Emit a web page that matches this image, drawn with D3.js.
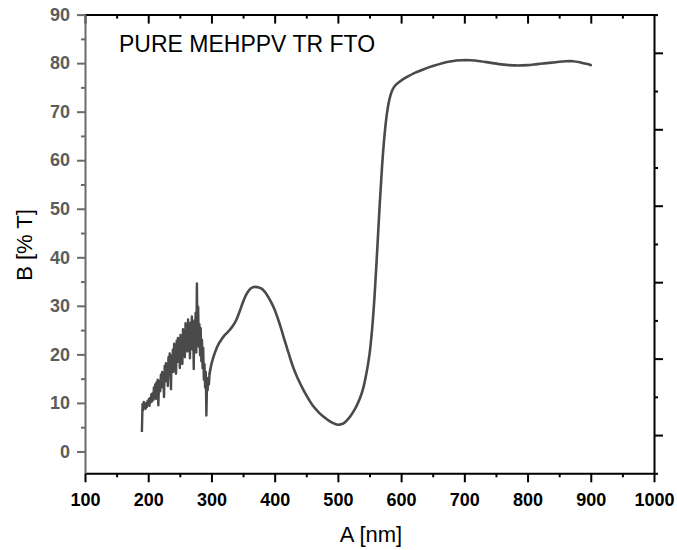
<!DOCTYPE html>
<html>
<head>
<meta charset="utf-8">
<script src="https://cdn.jsdelivr.net/npm/d3@7"></script>
<style>
  body { margin: 0; background: #fff; }
  text { font-family: "Liberation Sans", Arial, sans-serif; }
</style>
</head>
<body>
<div id="chart"></div>
<script>
// noisy region, 1 nm steps
var noisy_wl = d3.range(190, 298);
var noisy_t = [
  4.0, 9.8, 8.5, 10.2, 9.0, 9.6, 8.8, 10.0, 9.2, 10.4,
  9.6, 10.8, 9.4, 11.0, 10.1, 11.8, 10.3, 12.0, 10.6, 13.2,
  11.0, 13.8, 10.8, 14.2, 12.0, 14.8, 9.5, 13.5, 14.6, 12.4,
  15.8, 13.2, 16.4, 14.0, 15.2, 11.2, 17.6, 14.4, 18.2, 15.0,
  17.0, 13.5, 19.4, 15.8, 20.2, 16.2, 12.8, 19.8, 17.0, 21.0,
  16.4, 22.2, 17.8, 20.6, 16.0, 22.8, 18.4, 23.4, 19.0, 21.8,
  17.2, 24.0, 19.6, 22.4, 18.0, 25.2, 20.0, 23.6, 19.4, 26.4,
  21.2, 24.2, 20.6, 27.2, 21.8, 25.0, 19.2, 26.6, 22.4, 27.8,
  21.0, 25.8, 17.0, 27.0, 22.8, 28.6, 20.4, 34.6, 23.2, 29.8,
  21.6, 26.2, 19.8, 25.4, 18.6, 23.0, 17.2, 21.4, 14.8, 18.0,
  13.2, 16.4, 7.4, 14.0, 12.6, 15.2, 13.8, 16.0
];

// smooth region
var smooth_wl = [300, 304, 308, 312, 316, 320, 325, 330, 335, 340, 345, 350, 355, 360, 365, 370, 375,
  380, 385, 390, 395, 400, 405, 410, 415, 420, 425, 430, 435, 440, 445, 450, 455, 460, 465, 470,
  475, 480, 485, 490, 495, 500, 505, 510, 515, 520, 525, 530, 535, 540, 545, 550, 554, 558, 562,
  566, 570, 574, 578, 582, 586, 590, 595, 600, 610, 620, 635, 650, 665, 680, 695, 710, 725, 740,
  755, 770, 785, 800, 815, 830, 845, 860, 872, 885, 895, 900];
var smooth_t = [18.0, 19.8, 21.2, 22.3, 23.1, 23.8, 24.5, 25.2, 26.1, 27.3, 29.0, 30.8, 32.3, 33.3, 33.8, 33.9, 33.8,
  33.5, 32.8, 31.8, 30.6, 29.2, 27.4, 25.4, 23.2, 21.1, 19.0, 17.1, 15.5, 14.1, 12.8, 11.6, 10.5, 9.5, 8.7, 8.0,
  7.4, 6.9, 6.4, 6.0, 5.7, 5.5, 5.6, 5.9, 6.5, 7.3, 8.3, 9.5, 11.0, 13.0, 16.0, 20.0, 25.0, 32.0, 41.0,
  50.5, 59.0, 65.5, 70.0, 72.8, 74.4, 75.3, 75.9, 76.4, 77.2, 77.9, 78.7, 79.4, 80.0, 80.4, 80.6, 80.6, 80.4, 80.1,
  79.8, 79.6, 79.5, 79.6, 79.8, 80.0, 80.2, 80.4, 80.4, 80.1, 79.8, 79.6];

var x_major = d3.range(100, 1001, 100);
var x_minor = d3.range(150, 1000, 100);
var y_major = d3.range(0, 91, 10);
var y_minor = d3.range(5, 90, 10);
var right_major = [0, 1, 2, 3, 4, 5];
var right_minor = [-0.5, 0.5, 1.5, 2.5, 3.5, 4.5, 5.5];

var title_text = "PURE MEHPPV TR FTO";
var x_title = "A [nm]";
var y_title = "B [% T]";

// --------------------------------------------------------
var chart_width = 677;
var chart_height = 550;
var plot_left = 85, plot_right = 654, plot_top = 14.6, plot_bottom = 473.3;

var svg = d3.select("#chart")
  .append("svg")
  .attr("width", chart_width)
  .attr("height", chart_height);

var x_scale = d3.scaleLinear().domain([100, 1000]).range([plot_left, plot_right]);
var y_scale = d3.scaleLinear().domain([-4.5, 90]).range([plot_bottom, plot_top]);
var r_scale = d3.scaleLinear().domain([-0.5, 5.5]).range([plot_bottom, plot_top]);

// --------------------------------------------------------
// bottom axis
svg.append("g")
  .attr("transform", "translate(0," + plot_bottom + ")")
  .call(d3.axisBottom(x_scale).tickValues(x_minor).tickSize(4).tickSizeOuter(0).tickFormat(""))
  .call(g => g.select(".domain").remove());
svg.append("g")
  .attr("class", "x-axis")
  .attr("transform", "translate(0," + plot_bottom + ")")
  .call(d3.axisBottom(x_scale).tickValues(x_major).tickSize(9).tickSizeOuter(0).tickPadding(11).tickFormat(d3.format("d")));

// top axis (inward ticks)
svg.append("g")
  .attr("transform", "translate(0," + plot_top + ")")
  .call(d3.axisBottom(x_scale).tickValues(x_minor).tickSize(4).tickSizeOuter(0).tickFormat(""))
  .call(g => g.select(".domain").remove());
svg.append("g")
  .attr("transform", "translate(0," + plot_top + ")")
  .call(d3.axisBottom(x_scale).tickValues(x_major.slice(0, -1)).tickSize(9).tickSizeOuter(0).tickFormat(""));

// right axis (outward ticks, no labels)
svg.append("g")
  .attr("transform", "translate(" + plot_right + ",0)")
  .call(d3.axisRight(r_scale).tickValues(right_minor).tickSize(4).tickSizeOuter(0).tickFormat(""))
  .call(g => g.select(".domain").remove());
svg.append("g")
  .attr("transform", "translate(" + plot_right + ",0)")
  .call(d3.axisRight(r_scale).tickValues(right_major).tickSize(9).tickSizeOuter(0).tickFormat(""));

svg.selectAll(".tick line, .domain").attr("stroke", "#000").attr("stroke-width", 2);

// left axis (grey)
svg.append("g")
  .attr("class", "y-axis")
  .attr("transform", "translate(" + plot_left + ",0)")
  .call(d3.axisLeft(y_scale).tickValues(y_minor).tickSize(4).tickSizeOuter(0).tickFormat(""))
  .call(g => g.select(".domain").remove());
svg.append("g")
  .attr("class", "y-axis")
  .attr("transform", "translate(" + plot_left + ",0)")
  .call(d3.axisLeft(y_scale).tickValues(y_major).tickSize(8).tickSizeOuter(0).tickPadding(7));

svg.selectAll(".y-axis .tick line, .y-axis .domain").attr("stroke", "#6a6a6a").attr("stroke-width", 2);
svg.selectAll(".x-axis text")
  .attr("fill", "#000").style("font-size", "18px").style("font-weight", "bold");
svg.selectAll(".y-axis text")
  .attr("fill", "#5c5c5c").style("font-size", "18px").style("font-weight", "bold");

// --------------------------------------------------------
// the curve: noisy part straight segments, smooth part a spline
var noisy_pts = noisy_wl.map((w, i) => [w, noisy_t[i]]);
var smooth_pts = [noisy_pts[noisy_pts.length - 1]]
  .concat(smooth_wl.map((w, i) => [w, smooth_t[i]]));

var noisy_line = d3.line()
  .x(d => x_scale(d[0]))
  .y(d => y_scale(d[1]));

var smooth_line = d3.line()
  .x(d => x_scale(d[0]))
  .y(d => y_scale(d[1]))
  .curve(d3.curveCatmullRom);

svg.append("path")
  .datum(noisy_pts)
  .attr("d", noisy_line)
  .attr("fill", "none")
  .attr("stroke", "#4a4a4a")
  .attr("stroke-width", 2.4)
  .attr("stroke-linejoin", "round");

svg.append("path")
  .datum(smooth_pts)
  .attr("d", smooth_line)
  .attr("fill", "none")
  .attr("stroke", "#4a4a4a")
  .attr("stroke-width", 2.6)
  .attr("stroke-linejoin", "round")
  .attr("stroke-linecap", "round");

// --------------------------------------------------------
// texts
svg.append("text")
  .attr("x", 119).attr("y", 52)
  .style("font-size", "23px")
  .attr("fill", "#000")
  .text(title_text);

svg.append("text")
  .attr("x", 371).attr("y", 542)
  .attr("text-anchor", "middle")
  .style("font-size", "22px")
  .attr("fill", "#000")
  .text(x_title);

svg.append("text")
  .attr("transform", "translate(32,245) rotate(-90)")
  .attr("text-anchor", "middle")
  .style("font-size", "22px")
  .attr("fill", "#000")
  .text(y_title);
</script>
</body>
</html>
